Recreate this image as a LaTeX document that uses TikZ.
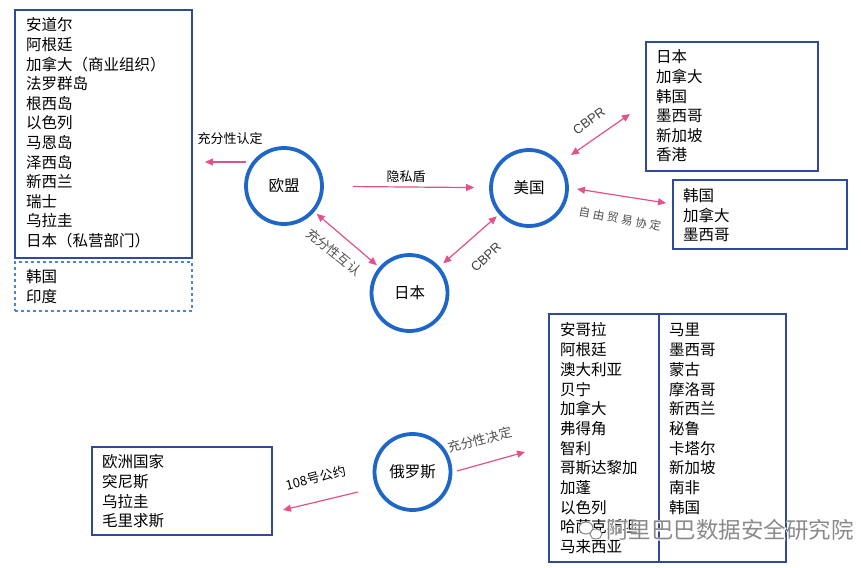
\documentclass[tikz,border=0pt]{standalone}
\usepackage{fontspec}
\setmainfont{Liberation Sans}
\newfontfamily\cjk{Noto Sans CJK SC}
\newfontfamily\cjkwide[LetterSpace=25]{Noto Sans CJK SC}
\newfontfamily\cjkhalo[FakeBold=6]{Noto Sans CJK SC}
\usetikzlibrary{arrows.meta}

\definecolor{hubblue}{HTML}{1F66C9}
\definecolor{boxblue}{HTML}{30499A}
\definecolor{linkpink}{HTML}{E4508A}
\definecolor{labelgray}{HTML}{505050}
\definecolor{markgray}{HTML}{8A8A8A}

\tikzset{
  hub/.style={circle, draw=hubblue, line width=3.8pt, minimum size=76pt, inner sep=0pt,
    font=\cjk\fontsize{15.5}{18}\selectfont},
  listbox/.style={draw=boxblue, line width=1.1pt, inner sep=0pt},
  item/.style={anchor=west, inner sep=0pt, font=\cjk\fontsize{15.5}{18}\selectfont},
  link/.style={draw=linkpink, line width=1.2pt},
  tip/.style={-{Triangle[length=8pt,width=7pt]}},
  twotip/.style={{Triangle[length=8pt,width=7pt]}-{Triangle[length=8pt,width=7pt]}},
  tag/.style={inner sep=0pt, font=\cjk\fontsize{13}{15}\selectfont},
  graytag/.style={tag, text=labelgray},
  latintag/.style={inner sep=0pt, font=\fontsize{13}{15}\selectfont, text=labelgray!80!black},
}

\begin{document}
\begin{tikzpicture}[x=1pt, y=-1pt]
\useasboundingbox (0,0) rectangle (861,567);
\fill[white] (0,0) rectangle (861,567);

% ---------- list boxes ----------
\node[listbox, minimum width=177pt, minimum height=248pt] (eubox) at (103.5,134) {};
\node[listbox, dashed, draw=hubblue!80, minimum width=177pt, minimum height=49pt] (pendbox) at (103.5,286.5) {};
\node[listbox, minimum width=172pt, minimum height=129pt] (cbprbox) at (732,106.5) {};
\node[listbox, minimum width=174pt, minimum height=69pt] (ftabox) at (760,214.5) {};
\node[listbox, minimum width=237pt, minimum height=248pt] (rubox) at (667.5,438) {};
\draw[boxblue, line width=1.1pt] (rubox.north -| 659,0) coordinate (rudivtop) -- (rubox.south -| 659,0) coordinate (rudivbot);
\node[listbox, minimum width=180pt, minimum height=88pt] (convbox) at (182,491) {};

% ---------- list entries ----------
\foreach \t [count=\i] in {安道尔,阿根廷,加拿大（商业组织）,法罗群岛,根西岛,以色列,马恩岛,泽西岛,新西兰,瑞士,乌拉圭,日本（私营部门）}
  \node[item] (eu-\i) at (26, {25+19.6*(\i-1)}) {\t};
\foreach \t [count=\i] in {韩国,印度}
  \node[item] (pend-\i) at (26, {277+19.2*(\i-1)}) {\t};
\foreach \t [count=\i] in {日本,加拿大,韩国,墨西哥,新加坡,香港}
  \node[item] (cbpr-\i) at (656, {57+19.6*(\i-1)}) {\t};
\foreach \t [count=\i] in {韩国,加拿大,墨西哥}
  \node[item] (fta-\i) at (683, {196+19.5*(\i-1)}) {\t};
\foreach \t [count=\i] in {安哥拉,阿根廷,澳大利亚,贝宁,加拿大,弗得角,智利,哥斯达黎加,加蓬,以色列,哈萨克斯坦,马来西亚}
  \node[item] (rul-\i) at (560, {330+19.7*(\i-1)}) {\t};
\foreach \t [count=\i] in {马里,墨西哥,蒙古,摩洛哥,新西兰,秘鲁,卡塔尔,新加坡,南非,韩国}
  \node[item] (rur-\i) at (669, {330+19.7*(\i-1)}) {\t};
\foreach \t [count=\i] in {欧洲国家,突尼斯,乌拉圭,毛里求斯}
  \node[item] (conv-\i) at (102, {462+19.6*(\i-1)}) {\t};

% ---------- hubs ----------
\node[hub] (eu) at (284,186) {欧盟};
\node[hub] (us) at (529,188) {美国};
\node[hub] (jp) at (409.5,293) {日本};
\node[hub] (ru) at (412.5,472) {俄罗斯};

% ---------- connectors ----------
\coordinate (euadq-s) at (246,162);
\coordinate (euadq-e) at (205,162);
\draw[link, tip] (euadq-s) -- (euadq-e);
\node[tag] (euadq-lbl) at (230,139) {充分性认定};

\draw[link, tip, shorten <=29pt, shorten >=15pt] (eu) -- (us);
\node[tag] (shield-lbl) at (406,177) {隐私盾};

\draw[link, twotip, shorten <=3pt, shorten >=3pt] (eu) -- (jp);
\node[graytag, rotate=-39] (mutual-lbl) at (334,252) {充分性互认};

\draw[link, twotip, shorten <=5pt, shorten >=3pt] (jp) -- (us);
\node[latintag, rotate=44] (jpus-lbl) at (486,257) {CBPR};

\coordinate (uscbpr-s) at (571,155);
\coordinate (uscbpr-e) at (630,114);
\draw[link, twotip] (uscbpr-s) -- (uscbpr-e);
\node[latintag, rotate=36] (uscbpr-lbl) at (589,121) {CBPR};

\coordinate (usfta-s) at (577,189);
\coordinate (usfta-e) at (666,203);
\draw[link, twotip] (usfta-s) -- (usfta-e);
\node[inner sep=0pt, text=labelgray, font=\cjkwide\fontsize{11.5}{13}\selectfont, rotate=-10.5] (usfta-lbl) at (620,219) {自由贸易协定};

\coordinate (conv-s) at (358,492);
\coordinate (conv-e) at (283,510);
\draw[link, tip] (conv-s) -- (conv-e);
\node[inner sep=0pt, font=\cjk\fontsize{13}{15}\selectfont, rotate=14.5] (conv-lbl) at (316,478) {108号公约};

\coordinate (ruadq-s) at (457,471);
\coordinate (ruadq-e) at (525,452);
\draw[link, tip] (ruadq-s) -- (ruadq-e);
\node[graytag, rotate=14.5] (ruadq-lbl) at (480,440) {充分性决定};

% ---------- publisher mark ----------
\node[anchor=west, inner sep=0pt, text=white, font=\cjkhalo\fontsize{22.5}{26}\selectfont] (mark-halo) at (606,530) {阿里巴巴数据安全研究院};
\node[anchor=west, inner sep=0pt, text=markgray, font=\cjk\fontsize{22.5}{26}\selectfont] (mark) at (606,530) {阿里巴巴数据安全研究院};
\draw[markgray, line width=1pt, fill=white] (586,528) ellipse [x radius=7pt, y radius=6pt];
\draw[markgray, line width=1pt, fill=white] (596,534) ellipse [x radius=6pt, y radius=5pt];
\end{tikzpicture}
\end{document}
